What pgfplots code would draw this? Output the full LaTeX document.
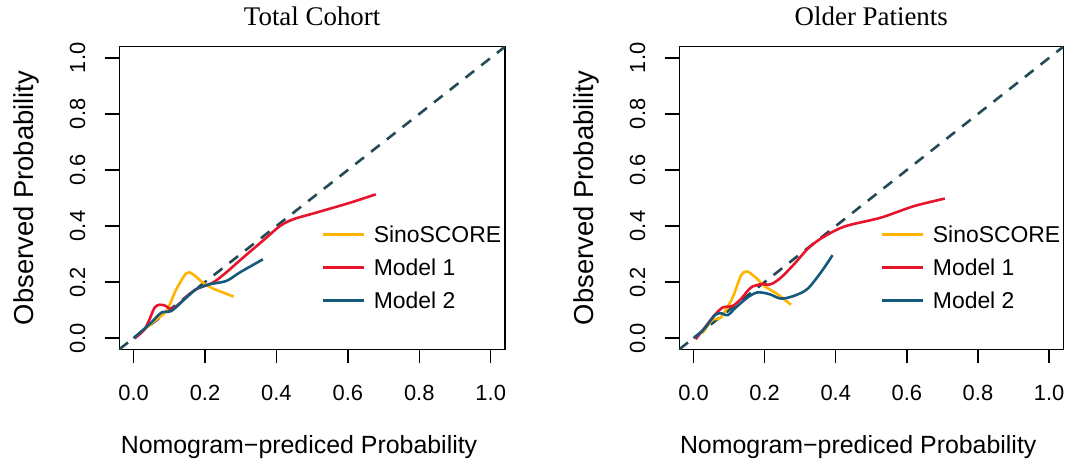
\documentclass[border=0pt]{standalone}
\usepackage{fontspec}
\setmainfont{Liberation Serif}
\newfontfamily\arial{Liberation Sans}
\usepackage{pgfplots}
\pgfplotsset{compat=1.18}
\definecolor{cyel}{HTML}{FFB400}
\definecolor{cred}{HTML}{E8142C}
\definecolor{cblu}{HTML}{145A7C}
\definecolor{cdash}{HTML}{234B55}

\pgfplotsset{calib/.style={
  scale only axis, height=302.6bp,
  xmin=-0.04, xmax=1.04, ymin=-0.04, ymax=1.04,
  xtick={0,0.2,0.4,0.6,0.8,1}, ytick={0,0.2,0.4,0.6,0.8,1},
  tick align=outside, major tick length=14bp,
  xtick pos=bottom, ytick pos=left,
  axis line style={line width=1.4bp},
  every tick/.style={black, line width=1.4bp},
  /pgf/number format/fixed, /pgf/number format/fixed zerofill,
  /pgf/number format/precision=1, /pgf/number format/assume math mode=true,
  tick label style={font=\arial\fontsize{22}{22}\selectfont},
  xticklabel style={anchor=base, inner sep=0pt, yshift=-37.4bp},
  yticklabel style={xshift=-20.3bp, rotate=90, anchor=base, inner sep=0pt},
  xlabel style={at={(axis description cs:0.466,-0.3437)}, anchor=base, inner sep=0pt, font=\arial\fontsize{25}{25}\selectfont},
  ylabel style={at={(axis description cs:-0.223,0.5)}, anchor=base, inner sep=0pt, font=\arial\fontsize{27.5}{27.5}\selectfont},
  title style={at={(axis description cs:0.5,1)}, anchor=base, yshift=15bp, inner sep=0pt, font=\fontsize{27}{27}\selectfont},
  xlabel={Nomogram−prediced Probability},
  ylabel={Observed Probability},
  legend cell align=left,
  legend image code/.code={\draw[#1, line width=2.6bp] (0bp,0bp) -- (41bp,0bp);},
  legend style={draw=none, fill=none, at={(rel axis cs:0.523,0.4156)}, anchor=north west,
    font=\arial\fontsize{23}{23}\selectfont, inner sep=0pt, column sep=9bp, row sep=11.5bp,
    nodes={inner sep=0pt, text height=19bp, text depth=2.5bp}},
  every axis plot/.append style={line width=2.6bp, smooth, tension=0.5},
}}

\begin{document}
\begin{tikzpicture}
\path[use as bounding box] (0,0) rectangle (1071bp,462bp);

\begin{axis}[calib, width=385.7bp, at={(119.3bp,112.7bp)}, anchor=south west, title={Total Cohort}]
\addplot[cdash, dash pattern=on 11bp off 9bp, forget plot, smooth=false] coordinates {(-0.04,-0.04) (1.04,1.04)};
\addplot[cyel] coordinates {(0.015,0.018) (0.035,0.035) (0.059,0.062) (0.092,0.097) (0.12,0.175) (0.148,0.232) (0.166,0.228) (0.194,0.198) (0.222,0.177) (0.25,0.163) (0.28,0.148)};
\addlegendentry{SinoSCORE}
\addplot[cred] coordinates {(0.003,-0.001) (0.03,0.03) (0.045,0.068) (0.059,0.109) (0.073,0.119) (0.09,0.115) (0.106,0.103) (0.13,0.125) (0.15,0.15) (0.176,0.175) (0.222,0.198) (0.26,0.235) (0.3,0.28) (0.367,0.353) (0.41,0.4) (0.447,0.424) (0.512,0.448) (0.606,0.483) (0.678,0.513)};
\addlegendentry{Model 1}
\addplot[cblu] coordinates {(0,0) (0.045,0.05) (0.078,0.091) (0.106,0.097) (0.143,0.139) (0.176,0.175) (0.213,0.192) (0.26,0.204) (0.297,0.234) (0.362,0.281)};
\addlegendentry{Model 2}
\end{axis}

\begin{axis}[calib, width=384bp, at={(679.3bp,112.7bp)}, anchor=south west, title={Older Patients}]
\addplot[cdash, dash pattern=on 11bp off 9bp, forget plot, smooth=false] coordinates {(-0.04,-0.04) (1.04,1.04)};
\addplot[cyel] coordinates {(0.025,0.017) (0.053,0.065) (0.077,0.074) (0.11,0.145) (0.133,0.222) (0.15,0.238) (0.175,0.216) (0.199,0.186) (0.236,0.157) (0.274,0.119)};
\addlegendentry{SinoSCORE}
\addplot[cred] coordinates {(0.006,-0.004) (0.03,0.035) (0.058,0.08) (0.082,0.109) (0.11,0.115) (0.133,0.139) (0.161,0.18) (0.189,0.192) (0.217,0.192) (0.246,0.216) (0.283,0.264) (0.32,0.317) (0.358,0.355) (0.424,0.398) (0.527,0.43) (0.62,0.471) (0.707,0.498)};
\addlegendentry{Model 1}
\addplot[cblu] coordinates {(0,0) (0.03,0.032) (0.058,0.08) (0.077,0.089) (0.096,0.082) (0.119,0.109) (0.152,0.145) (0.18,0.163) (0.213,0.157) (0.246,0.141) (0.283,0.151) (0.32,0.175) (0.358,0.234) (0.391,0.296)};
\addlegendentry{Model 2}
\end{axis}
\end{tikzpicture}
\end{document}
